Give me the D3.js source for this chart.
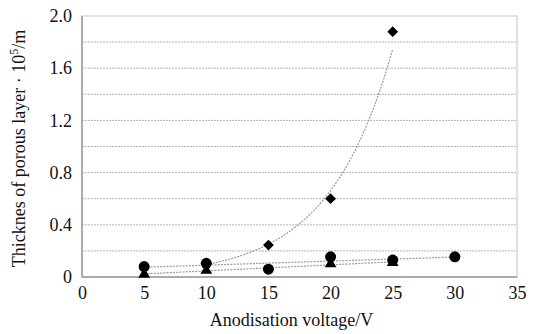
<!DOCTYPE html>
<html><head><meta charset="utf-8">
<script src="https://cdn.jsdelivr.net/npm/d3@7"></script>
<style>body{margin:0;background:#fff}svg{display:block}</style>
</head><body><svg id="c" width="537" height="334"></svg>
<script>
const xTicks = [0,5,10,15,20,25,30,35];
const yTicks = [0,0.4,0.8,1.2,1.6,2.0];
const yGrid = [0.2,0.4,0.6,0.8,1.0,1.2,1.4,1.6,1.8];
const diamondX = [10,15,20,25];
const diamondY = [0.10,0.245,0.60,1.88];
const circleX = [5,10,15,20,25,30];
const circleY = [0.08,0.105,0.06,0.155,0.13,0.155];
const triangleX = [5,10,20,25];
const triangleY = [0.02,0.05,0.10,0.11];

const FONT = "Liberation Serif";
const svg = d3.select("#c");
const L=82,R=517,T=16,B=277;
const x = d3.scaleLinear().domain([0,35]).range([L,R]);
const y = d3.scaleLinear().domain([0,2]).range([B,T]);

svg.append("g").selectAll("line").data(yGrid).join("line")
  .attr("x1",L).attr("x2",R).attr("y1",d=>y(d)).attr("y2",d=>y(d))
  .attr("stroke","#b5b5b5").attr("stroke-width",1).attr("stroke-dasharray","2,1");
svg.append("rect").attr("x",L).attr("y",T).attr("width",R-L).attr("height",B-T)
  .attr("fill","none").attr("stroke","#d8d8d8").attr("stroke-width",1.5);
svg.append("line").attr("x1",L).attr("x2",L).attr("y1",T).attr("y2",B).attr("stroke","#999").attr("stroke-width",1.5);
svg.append("line").attr("x1",L).attr("x2",R).attr("y1",B).attr("y2",B).attr("stroke","#999").attr("stroke-width",1.5);

const xa = svg.append("g").attr("transform",`translate(0,${B})`)
  .call(d3.axisBottom(x).tickValues(xTicks).tickSize(0).tickPadding(9).tickFormat(d3.format("d")));
xa.select(".domain").remove();
xa.attr("font-family",null).attr("font-size",null);
xa.selectAll("text").attr("fill","#111").attr("font-family",FONT).attr("font-size",18);
const ya = svg.append("g").attr("transform",`translate(${L},0)`)
  .call(d3.axisLeft(y).tickValues(yTicks).tickSize(0).tickPadding(10).tickFormat(d=>d===0?"0":d3.format(".1f")(d)));
ya.select(".domain").remove();
ya.attr("font-family",null).attr("font-size",null);
ya.selectAll("text").attr("fill","#111").attr("font-family",FONT).attr("font-size",18);

svg.append("text").attr("x",(L+R)/2-8).attr("y",326).attr("text-anchor","middle")
  .attr("font-family",FONT).attr("font-size",18).attr("fill","#111").text("Anodisation voltage/V");
const yl = svg.append("text").attr("transform",`translate(25,${(T+B)/2+2}) rotate(-90)`)
  .attr("text-anchor","middle").attr("font-family",FONT).attr("font-size",18).attr("fill","#111");
yl.append("tspan").attr("font-family",FONT).text("Thicknes of porous layer · 10");
yl.append("tspan").attr("font-family",FONT).attr("dy",-7).attr("font-size",12).text("5");
yl.append("tspan").attr("font-family",FONT).attr("dy",7).text("/m");

function linfit(xs,ys){const mx=d3.mean(xs),my=d3.mean(ys);
  let num=0,den=0;xs.forEach((v,i)=>{num+=(v-mx)*(ys[i]-my);den+=(v-mx)**2});
  const b=num/den;return {a:my-b*mx,b};}
const tl = svg.append("g").attr("fill","none").attr("stroke","#9a9a9a").attr("stroke-width",1.2).attr("stroke-dasharray","2,1.2");
const ef = linfit(diamondX, diamondY.map(Math.log));
const xsD = d3.range(diamondX[0], diamondX[diamondX.length-1]+0.001, 0.25);
tl.append("path").attr("d", d3.line().x(d=>x(d)).y(d=>y(Math.exp(ef.a+ef.b*d)))(xsD));
const cf = linfit(circleX,circleY);
tl.append("line").attr("x1",x(5)).attr("x2",x(30)).attr("y1",y(cf.a+cf.b*5)).attr("y2",y(cf.a+cf.b*30));
const tf = linfit(triangleX,triangleY);
tl.append("line").attr("x1",x(5)).attr("x2",x(25)).attr("y1",y(tf.a+tf.b*5)).attr("y2",y(tf.a+tf.b*25));

const m = svg.append("g").attr("fill","#000");
m.selectAll(".t").data(triangleX).join("path").attr("transform",(d,i)=>`translate(${x(d)},${y(triangleY[i])})`)
  .attr("d",d3.symbol(d3.symbolTriangle,60));
m.selectAll(".c").data(circleX).join("circle").attr("cx",d=>x(d)).attr("cy",(d,i)=>y(circleY[i])).attr("r",5.5);
m.selectAll(".d").data(diamondX).join("path")
  .attr("transform",(d,i)=>`translate(${x(d)},${y(diamondY[i])}) rotate(45)`).attr("d",d3.symbol(d3.symbolSquare,58));
</script></body></html>
